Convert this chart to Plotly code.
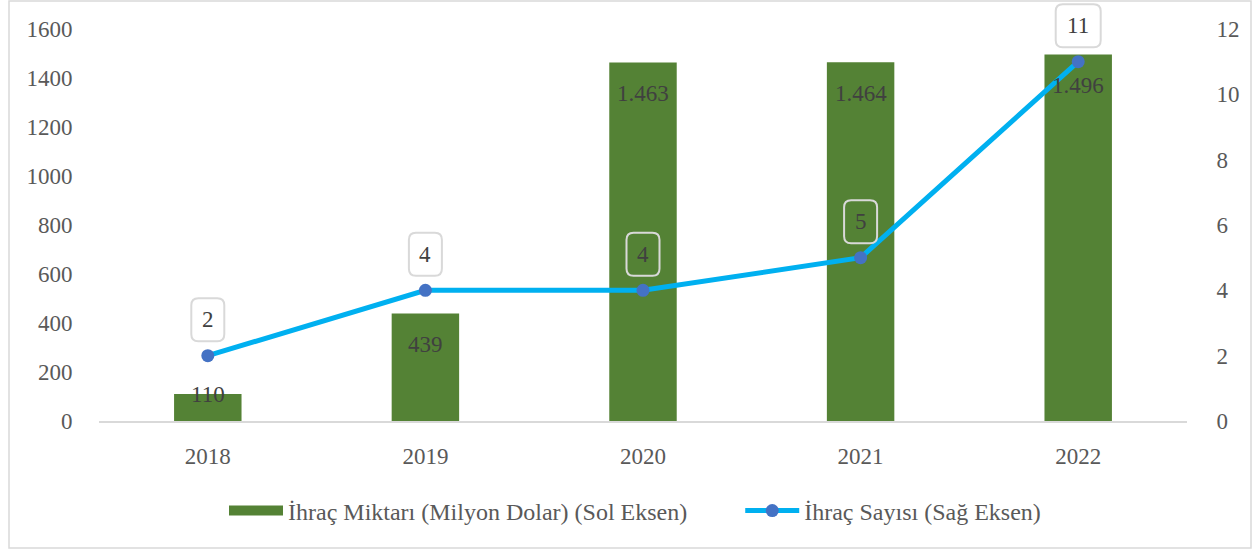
import plotly.graph_objects as go

years = ["2018", "2019", "2020", "2021", "2022"]
ihrac_miktari = [110, 439, 1463, 1464, 1496]   # Milyon Dolar (sol eksen)
ihrac_sayisi = [2, 4, 4, 5, 11]                 # adet (sağ eksen)
left_ticks = [0, 200, 400, 600, 800, 1000, 1200, 1400, 1600]
right_ticks = [0, 2, 4, 6, 8, 10, 12]

FONT = "Liberation Serif"
TEXT = "#595959"
LABEL = "#404040"
GREEN = "#548235"
BLUE_LINE = "#00B0F0"
BLUE_MARK = "#4472C4"
FRAME = "#D9D9D9"

W, H = 1254, 554
ML, MR, MB = 99, 67, 133
MT = 0                     # plot area reaches the top so label boxes are not clipped
AXIS_TOP_PX = 29           # pixel row of the highest tick (1600 / 12)
plot_w = W - ML - MR
plot_h = H - MT - MB
# stretch the ranges so that the top ticks sit AXIS_TOP_PX below the page top
stretch = plot_h / (plot_h - AXIS_TOP_PX)
left_max = left_ticks[-1] * stretch
right_max = right_ticks[-1] * stretch

BAR_NAME = "İhraç Miktarı (Milyon Dolar) (Sol Eksen)"
LINE_NAME = "İhraç Sayısı (Sağ Eksen)"

# category slots on a numeric axis, labelled with the years
xpos = list(range(len(years)))


def tr_num(v):
    return f"{v:,}".replace(",", ".")


fig = go.Figure()
fig.add_trace(go.Bar(
    x=xpos, y=ihrac_miktari, name=BAR_NAME, showlegend=False, width=0.31,
    marker=dict(color=GREEN, line=dict(width=0)), yaxis="y",
))
# legend-only entry giving the bar series a wide swatch
fig.add_trace(go.Scatter(
    x=[None], y=[None], name=BAR_NAME + "        ", mode="lines",
    line=dict(color=GREEN, width=13), yaxis="y", showlegend=True,
))
fig.add_trace(go.Scatter(
    x=xpos, y=ihrac_sayisi, name=LINE_NAME, yaxis="y2",
    mode="lines+markers",
    line=dict(color=BLUE_LINE, width=5),
    marker=dict(color=BLUE_MARK, size=13, symbol="circle"),
))

annotations = []
# bar value labels, inside the bar end
px_per_unit = plot_h / left_max
for xi, v in zip(xpos, ihrac_miktari):
    bar_px = v * px_per_unit
    shift = -31 if bar_px > 64 else 0
    annotations.append(dict(
        x=xi, y=v, xref="x", yref="y", text=tr_num(v), showarrow=False,
        yshift=shift, font=dict(family=FONT, size=23, color=LABEL),
    ))

shapes = []
# line value labels, in rounded boxes above the points
BOX_W, BOX_H, R, LIFT = 33, 43, 7, 36
for xi, v in zip(xpos, ihrac_sayisi):
    annotations.append(dict(
        x=xi, y=v, xref="x", yref="y2", text=str(v), showarrow=False,
        yshift=LIFT, font=dict(family=FONT, size=23, color=LABEL),
    ))
    w = BOX_W + 12 * (len(str(v)) - 1)
    x0, x1 = -w / 2, w / 2
    y0, y1 = LIFT - BOX_H / 2, LIFT + BOX_H / 2
    path = (
        f"M{x0 + R},{y0} L{x1 - R},{y0} Q{x1},{y0} {x1},{y0 + R} "
        f"L{x1},{y1 - R} Q{x1},{y1} {x1 - R},{y1} "
        f"L{x0 + R},{y1} Q{x0},{y1} {x0},{y1 - R} "
        f"L{x0},{y0 + R} Q{x0},{y0} {x0 + R},{y0} Z"
    )
    shapes.append(dict(
        type="path", xref="x", yref="y2", xsizemode="pixel", ysizemode="pixel",
        xanchor=xi, yanchor=v, path=path,
        line=dict(color=FRAME, width=2), fillcolor="rgba(0,0,0,0)",
        layer="above",
    ))

# outer chart frame
shapes.append(dict(
    type="rect", xref="paper", yref="paper",
    x0=(9 - ML) / plot_w, x1=(1251 - ML) / plot_w,
    y0=(MT + plot_h - 548) / plot_h, y1=(MT + plot_h - 1) / plot_h,
    line=dict(color=FRAME, width=1.5), fillcolor="rgba(0,0,0,0)", layer="below",
))

fig.update_layout(
    width=W, height=H,
    margin=dict(l=ML, r=MR, t=MT, b=MB),
    paper_bgcolor="white", plot_bgcolor="white",
    font=dict(family=FONT, size=23, color=TEXT),
    showlegend=True,
    legend=dict(
        orientation="h", x=(635 - ML) / plot_w, xanchor="center",
        y=(MT + plot_h - 511) / plot_h, yanchor="middle",
        font=dict(family=FONT, size=24, color=TEXT),
        itemwidth=54, tracegroupgap=0,
    ),
    xaxis=dict(
        range=[-0.5, len(years) - 0.5], tickvals=xpos, ticktext=years,
        showgrid=False, zeroline=False, showline=True, linecolor=FRAME,
        linewidth=1.5, ticks="outside", ticklen=14, tickcolor="rgba(0,0,0,0)",
        tickfont=dict(size=23, color=TEXT),
    ),
    yaxis=dict(
        range=[0, left_max], tickvals=left_ticks, showgrid=False, zeroline=False,
        showline=False, ticks="outside", ticklen=21, tickcolor="rgba(0,0,0,0)",
        tickfont=dict(size=23, color=TEXT),
    ),
    yaxis2=dict(
        range=[0, right_max], tickvals=right_ticks, overlaying="y", side="right",
        showgrid=False, zeroline=False, showline=False,
        ticks="outside", ticklen=24, tickcolor="rgba(0,0,0,0)",
        tickfont=dict(size=23, color=TEXT),
    ),
    annotations=annotations,
    shapes=shapes,
)

fig.write_html("out.html")
